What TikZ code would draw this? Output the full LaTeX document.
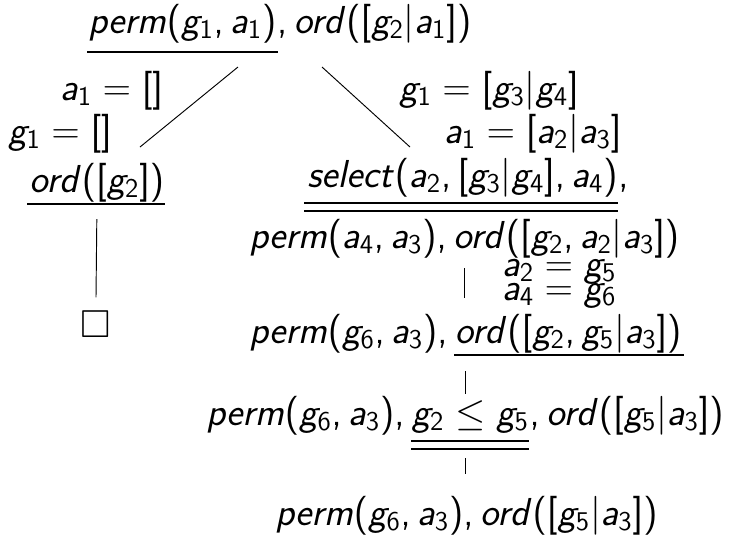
\documentclass[tikz,border=0pt]{standalone}
\usepackage{amsmath,amssymb}
\usepackage{tikz}
\usetikzlibrary{positioning,calc}

% slanted sans letters, upright sans digits and brackets in math
\DeclareSymbolFont{sfslanted}{OT1}{cmss}{m}{sl}
\DeclareSymbolFont{sfupright}{OT1}{cmss}{m}{n}
\newcommand{\sfletter}[1]{\DeclareMathSymbol{#1}{\mathalpha}{sfslanted}{`#1}}
\newcommand{\sfdigit}[1]{\DeclareMathSymbol{#1}{\mathalpha}{sfupright}{`#1}}
\sfletter a \sfletter c \sfletter d \sfletter e \sfletter g \sfletter l
\sfletter m \sfletter o \sfletter p \sfletter r \sfletter s \sfletter t
\sfdigit 1 \sfdigit 2 \sfdigit 3 \sfdigit 4 \sfdigit 5 \sfdigit 6
\DeclareMathSymbol{(}{\mathopen}{sfupright}{`(}
\DeclareMathSymbol{)}{\mathclose}{sfupright}{`)}
\DeclareMathSymbol{[}{\mathopen}{sfupright}{`[}
\DeclareMathSymbol{]}{\mathclose}{sfupright}{`]}
\DeclareMathSymbol{,}{\mathpunct}{sfupright}{`,}

\begin{document}
\begin{tikzpicture}[x=0.532pt, y=-0.532pt,
    every node/.style={inner sep=0pt, font=\huge},
    goal/.style={anchor=base west},
    sel/.style={line width=1pt},
    edge/.style={line width=0.5pt}]
    \useasboundingbox (0,0) rectangle (729,537);

    % Root goal
    \node[goal] (r1) at (88,33) {$perm(g_1,a_1)$};
    \node[goal] (r2) at (r1.base east) {$,ord([g_2|a_1])$};
    \draw[sel] ($(r1.base west)+(-1,19)$) -- ($(r1.base east)+(1,19)$);

    % Branches
    \coordinate (lt) at (238,67);
    \coordinate (lb) at (140,147);
    \coordinate (rt) at (322,67);
    \coordinate (rb) at (410,147);
    \draw[edge] (lt) -- (lb);
    \draw[edge] (rt) -- (rb);

    % Unifiers
    \node[goal] (ua) at (60,100) {$a_1=[]$};
    \node[goal] (ug) at (8,143) {$g_1=[]$};
    \node[goal] (vg) at (399,100) {$g_1=[g_3|g_4]$};
    \node[goal] (va) at (444,143) {$a_1=[a_2|a_3]$};

    % Left branch
    \node[goal] (o1) at (29,192) {$ord([g_2])$};
    \draw[sel] ($(o1.base west)+(-2,12)$) -- ($(o1.base east)+(0,12)$);
    \node (done) at (96,324) {$\square$};
    \draw[edge] ($(o1.base)+(0,27)$) -- ($(done.north)+(0,-13)$);

    % Right branch
    \node[goal] (s1) at (307,187) {$select(a_2,[g_3|g_4],a_4)$};
    \node[goal] (s2) at (s1.base east) {$,$};
    \draw[sel] ($(s1.base west)+(-3,16)$) -- ($(s1.base east)+(0,16)$);
    \draw[sel] ($(s1.base west)+(-3,24)$) -- ($(s1.base east)+(0,24)$);
    \node[goal] (s3) at (249,248) {$perm(a_4,a_3),ord([g_2,a_2|a_3])$};
    \draw[edge] ($(s3.base)+(0,20)$) -- ($(s3.base)+(0,50)$);
    \node[goal] (w1) at (502,276) {$a_2=g_5$};
    \node[goal] (w2) at (502,300) {$a_4=g_6$};

    \node[goal] (p1) at (249,343) {$perm(g_6,a_3),\,$};
    \node[goal] (p2) at (p1.base east) {$ord([g_2,g_5|a_3])$};
    \draw[sel] (p2.base west) ++(0,12) -- ($(p2.base east)+(2,12)$);
    \coordinate (c3) at ($(p1.base west)!.5!(p2.base east)$);
    \draw[edge] ($(c3)+(0,28)$) -- ($(c3)+(0,51)$);

    \node[goal] (q1) at (206,425) {$perm(g_6,a_3),\,$};
    \node[goal] (q2) at (q1.base east) {$g_2\leq g_5$};
    \node[goal] (q3) at (q2.base east) {$,ord([g_5|a_3])$};
    \draw[sel] ($(q2.base west)+(0,16)$) -- ($(q2.base east)+(0,16)$);
    \draw[sel] ($(q2.base west)+(0,24)$) -- ($(q2.base east)+(0,24)$);
    \coordinate (c4) at ($(q1.base west)!.5!(q3.base east)$);
    \draw[edge] ($(c4)+(0,33)$) -- ($(c4)+(0,49)$);

    \node[goal] (f1) at (275,525) {$perm(g_6,a_3),ord([g_5|a_3])$};
\end{tikzpicture}
\end{document}
